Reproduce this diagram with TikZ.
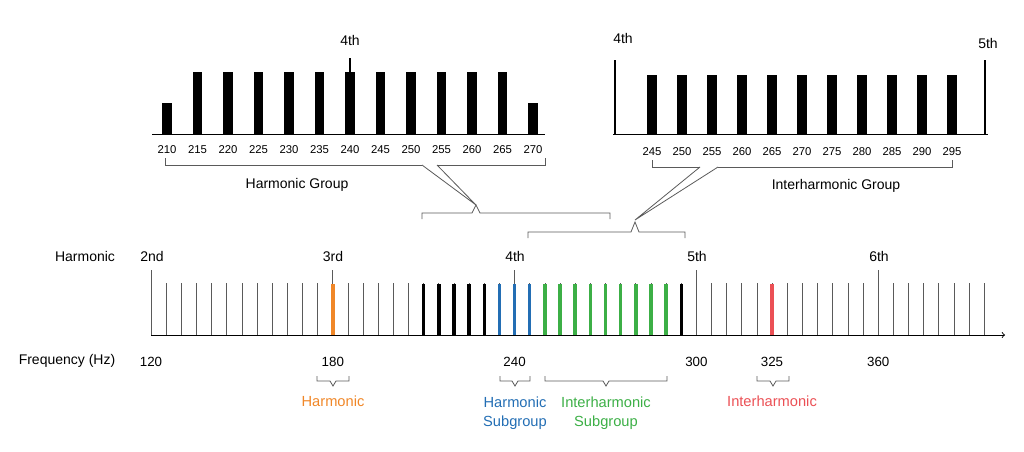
\documentclass[tikz,border=0pt]{standalone}
\usepackage{fontspec}
\setmainfont{Liberation Sans}
\definecolor{cor}{RGB}{240,135,40}
\definecolor{cbl}{RGB}{35,110,180}
\definecolor{cgr}{RGB}{60,175,70}
\definecolor{cre}{RGB}{235,80,85}
\definecolor{cgy}{RGB}{90,90,90}
\begin{document}
\begin{tikzpicture}[x=0.75pt,y=-0.75pt,
  lbl/.style={font=\fontsize{10.5}{12}\selectfont,inner sep=0pt},
  num/.style={font=\fontsize{8.5}{10}\selectfont,inner sep=0pt},
  sub/.style={font=\fontsize{11}{14}\selectfont,inner sep=0pt,align=center},
  thin/.style={cgy,line width=0.6pt},
  bar/.style={line width=2.6pt},
  brk/.style={line width=0.6pt,cgy}]
\useasboundingbox (0,0) rectangle (1024,451);
% main axis
\draw[line width=0.7pt,->] (151,335) -- (1005,335);
\foreach \f in {125,130,...,395}{\draw[thin] ({151+(\f-120)*3.03},283) -- ({151+(\f-120)*3.03},335);}
\foreach \f in {120,180,240,300,360}{\draw[thin] ({151+(\f-120)*3.03},270) -- ({151+(\f-120)*3.03},335);}
\foreach \f in {210,215,...,230,295}{\draw[bar,black] ({151+(\f-120)*3.03},284) -- ({151+(\f-120)*3.03},335);}
\foreach \f in {235,240,245}{\draw[bar,cbl] ({151+(\f-120)*3.03},284) -- ({151+(\f-120)*3.03},335);}
\foreach \f in {250,255,...,290}{\draw[bar,cgr] ({151+(\f-120)*3.03},284) -- ({151+(\f-120)*3.03},335);}
\draw[bar,cor] (333,284) -- (333,335);
\draw[bar,cre] (772,284) -- (772,335);
\node[lbl] (hl) at (85,256) {Harmonic};
\node[lbl] (h2) at (152,256) {2nd};
\node[lbl] (h3) at (333,256) {3rd};
\node[lbl] (h4) at (515,256) {4th};
\node[lbl] (h5) at (697,256) {5th};
\node[lbl] (h6) at (879,256) {6th};
\node[lbl] (fl) at (67,361) {Frequency (Hz)};
\foreach \f in {120,180,240,300,360}{\node[num,font=\fontsize{10}{12}\selectfont] at ({151+(\f-120)*3.03},362) {\f};}
\node[num,font=\fontsize{10}{12}\selectfont] at (772,362) {325};
% small braces
\foreach \a/\b in {317/349,500/530,545/667,757/789}{
 \draw[brk] (\a,376) -- (\a,381) -- ({(\a+\b)/2-3},381) -- ({(\a+\b)/2},386) -- ({(\a+\b)/2+3},381) -- (\b,381) -- (\b,376);}
\node[sub,cor] (s1) at (333,401) {Harmonic};
\node[sub,cbl] (s2) at (515,413) {Harmonic\\Subgroup};
\node[sub,cgr] (s3) at (606,413) {Interharmonic\\Subgroup};
\node[sub,cre] (s4) at (772,401) {Interharmonic};
% top-left inset
\draw[line width=0.7pt] (152,134) -- (545,134);
\foreach \i in {0,...,12}{
  \pgfmathsetmacro{\xx}{167+\i*30.5}
  \pgfmathtruncatemacro{\ff}{210+5*\i}
  \ifnum\i=0 \draw[line width=7pt] (\xx,103) -- (\xx,134);
  \else\ifnum\i=12 \draw[line width=7pt] (\xx,103) -- (\xx,134);
  \else \draw[line width=7pt] (\xx,72) -- (\xx,134); \fi\fi
  \node[num] at (\xx,150) {\ff};}
\draw[line width=1pt] (350,58) -- (350,72);
\node[lbl] (t4) at (350,40) {4th};
\draw[brk] (165,158) -- (165,165) -- (422,165);
\draw[brk] (437,165) -- (545,165) -- (545,158);
\draw[brk] (422,165) -- (476,205) -- (437,165);
\node[lbl] (hg) at (297,185) {Harmonic Group};
\draw[brk] (422,219) -- (422,213) -- (472,213) -- (476,205) -- (480,213) -- (610,213) -- (610,219);
% top-right inset
\draw[line width=0.7pt] (613,134) -- (988,134);
\draw[line width=1pt] (615,60) -- (615,134);
\draw[line width=1pt] (985,60) -- (985,134);
\foreach \i in {0,...,10}{
  \pgfmathsetmacro{\xx}{652+\i*30}
  \pgfmathtruncatemacro{\ff}{245+5*\i}
  \draw[line width=7pt] (\xx,75) -- (\xx,134);
  \node[num] at (\xx,152) {\ff};}
\node[lbl] (r4) at (623,38) {4th};
\node[lbl] (r5) at (988,43) {5th};
\draw[brk] (652,160) -- (652,167) -- (700,167);
\draw[brk] (718,167) -- (952,167) -- (952,160);
\draw[brk] (700,167) -- (635,220) -- (718,167);
\node[lbl] (ig) at (836,186) {Interharmonic Group};
\draw[brk] (528,238) -- (528,232) -- (631,232) -- (635,222) -- (639,232) -- (685,232) -- (685,238);
\end{tikzpicture}
\end{document}
